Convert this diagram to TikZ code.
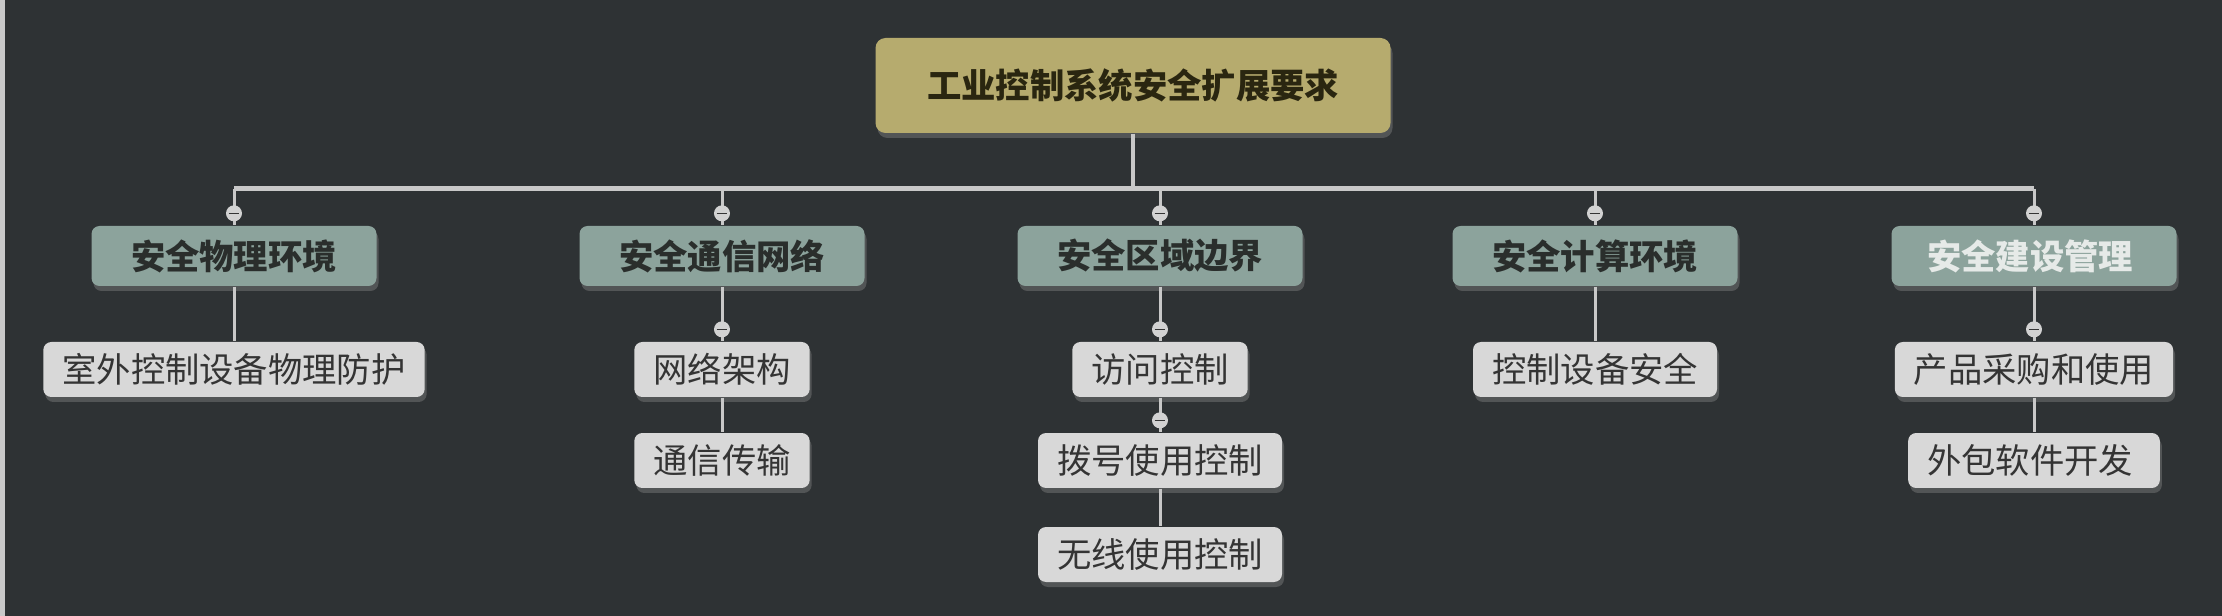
\documentclass[tikz,border=0pt]{standalone}
\usepackage{fontspec}
\setmainfont{Noto Sans CJK SC}
\usetikzlibrary{positioning,shadows}
\definecolor{bgcol}{HTML}{2E3234}
\definecolor{stripcol}{HTML}{C9C9C9}
\definecolor{linecol}{HTML}{C8C8C8}
\definecolor{rootfill}{HTML}{B6AB6E}
\definecolor{roottext}{HTML}{2A2610}
\definecolor{branchfill}{HTML}{8CA39C}
\definecolor{darktext}{HTML}{2A2E2C}
\definecolor{lighttext}{HTML}{E6EAE8}
\definecolor{leaffill}{HTML}{D8D8D8}
\definecolor{leaftext}{HTML}{343434}
\definecolor{dotfill}{HTML}{D2D2D2}
\newcommand{\basefont}{\fontsize{10.3pt}{12pt}\selectfont}
\tikzset{
    box/.style={rounded corners=2.4pt, inner sep=0pt, align=center,
        drop shadow={shadow xshift=0.6pt, shadow yshift=-1.5pt, opacity=0.45}},
    rootbox/.style={box, fill=rootfill, text=roottext, rounded corners=3pt,
        minimum width=154.5pt, minimum height=28.5pt, font=\basefont\bfseries},
    branchbox/.style={box, fill=branchfill, minimum width=85.5pt,
        minimum height=18pt, font=\basefont\bfseries},
    leafbox/.style={box, fill=leaffill, text=leaftext, inner xsep=5.7pt,
        minimum height=16.5pt, font=\basefont},
    bus/.style={draw=linecol, line width=1.5pt},
    link/.style={draw=linecol, line width=0.9pt},
    collapse/.style={circle, fill=dotfill, inner sep=0pt, minimum size=4.8pt,
        path picture={\draw[leaftext, line width=0.3pt]
            ([xshift=-1.6pt]path picture bounding box.center) --
            ([xshift=1.6pt]path picture bounding box.center);}}
}
\begin{document}
\begin{tikzpicture}[x=0.3pt, y=-0.3pt]
        %Nền
            \useasboundingbox (0,0) rectangle (2222,616);
            \fill[bgcol] (0,0) rectangle (2222,616);
            \fill[stripcol] (0,0) rectangle (5,616);
        %Gốc
        \node[rootbox] (root) at (1133,85.5) {工业控制系统安全扩展要求};
        \coordinate (busL) at (234,189);
        \coordinate (busR) at (2034,189);
        \draw[bus] (busL) -- (busR);
        \draw[link, line width=1.2pt] (root.south) -- (root.south |- busL);
        %Nhánh
        \foreach \n/\x/\c/\t in{
        b1/234/darktext/安全物理环境, b2/722/darktext/安全通信网络,
        b3/1160/darktext/安全区域边界, b4/1595/darktext/安全计算环境,
        b5/2034/lighttext/安全建设管理
        }{\node[branchbox, text=\c] (\n) at (\x,256) {\t};
          \draw[link] (\n.north |- busL) -- (\n.north);}
        %Lá
        \foreach \n/\p/\x/\y/\t in{
        l1/b1/234/369.5/室外控制设备物理防护,
        l2/b2/722/369.5/网络架构, l3/l2/722/460.5/通信传输,
        l4/b3/1160/369.5/访问控制, l5/l4/1160/460.5/拨号使用控制,
        l6/l5/1160/554.5/无线使用控制,
        l7/b4/1595/369.5/控制设备安全,
        l8/b5/2034/369.5/产品采购和使用, l9/l8/2034/460.5/外包软件开发
        }{\node[leafbox] (\n) at (\x,\y) {\t};
          \draw[link] (\p.south) -- (\n.north);}
        %Nút thu gọn
        \foreach \n in{b1,b2,b3,b4,b5,l2,l4,l5,l8}
        {\node[collapse, above=1pt of \n] (k-\n) {};}
        \end{tikzpicture}
\end{document}
